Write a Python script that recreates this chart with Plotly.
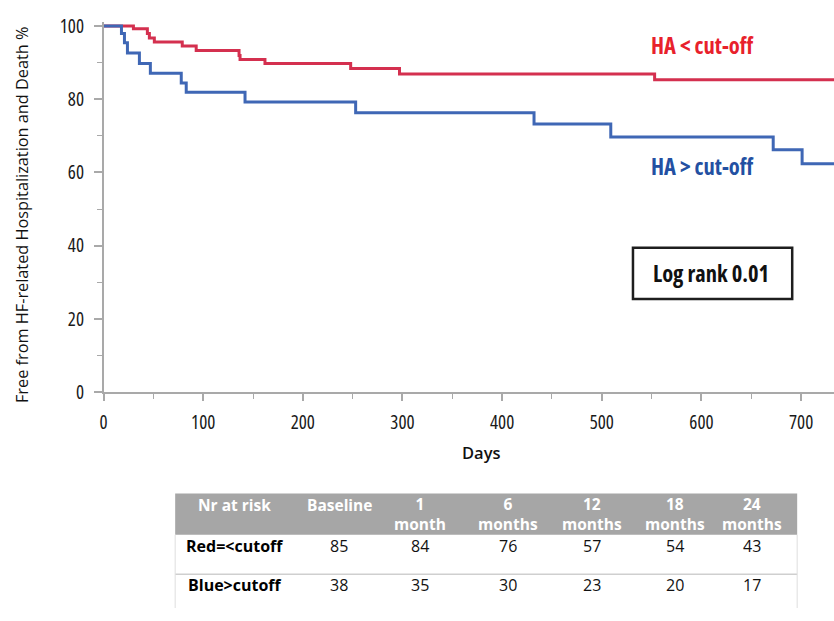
import plotly.graph_objects as go

# Kaplan-Meier step data (days, % event-free)
red_days = [0, 30, 44, 46, 51, 79, 93, 136, 137, 162, 248, 297, 553, 733]
red_surv = [100, 99.2, 97.9, 96.7, 95.6, 94.5, 93.3, 91.9, 90.8, 89.7, 88.4, 86.9, 85.3, 85.3]

blue_days = [0, 18, 21, 24, 36, 47, 78, 83, 142, 253, 432, 509, 672, 701, 733]
blue_surv = [100, 97.9, 95.4, 92.6, 89.7, 87.1, 84.4, 81.9, 79.2, 76.3, 73.2, 69.7, 66.2, 62.4, 62.4]

x_ticks = [0, 100, 200, 300, 400, 500, 600, 700]
y_ticks = [0, 20, 40, 60, 80, 100]

# Numbers at risk
risk_header = ["Nr at risk", "Baseline", "1<br>month", "6<br>months",
               "12<br>months", "18<br>months", "24<br>months"]
risk_groups = ["Red=<cutoff", "Blue>cutoff"]
risk_red = [85, 84, 76, 57, 54, 43]
risk_blue = [38, 35, 30, 23, 20, 17]

W, H = 834, 621
RED_LINE = "#d4304f"
BLUE_LINE = "#3f67b5"
AXIS_GREY = "#a9a9a9"
FONT = "Open Sans, Noto Sans, sans-serif"


def px(x, y):
    """pixel position -> paper coordinates"""
    return x / W, (H - y) / H


def narrow(text, pct):
    return f"<span style='font-stretch:{pct}%'>{text}</span>"


def esc(text):
    return text.replace("<", "&lt;").replace(">", "&gt;")


def label(annotations, x, y, text, size, color, weight=None, angle=0):
    ax, ay = px(x, y)
    font = dict(family=FONT, size=size, color=color)
    if weight:
        font["weight"] = weight
    annotations.append(dict(x=ax, y=ay, xref="paper", yref="paper", xanchor="center",
                            yanchor="middle", showarrow=False, textangle=angle,
                            align="center", text=text, font=font))


fig = go.Figure()
fig.add_trace(go.Scatter(x=red_days, y=red_surv, mode="lines", line_shape="hv",
                         line=dict(color=RED_LINE, width=3), showlegend=False,
                         hoverinfo="skip"))
fig.add_trace(go.Scatter(x=blue_days, y=blue_surv, mode="lines", line_shape="hv",
                         line=dict(color=BLUE_LINE, width=3), showlegend=False,
                         hoverinfo="skip"))

# plot area in pixels
x0_px, y0_px, y100_px = 100, 397, 16.5
ppu = (y0_px - y100_px) / 100.0
y_top = 101
top_px = y0_px - y_top * ppu

annotations = []
shapes = []

# curve labels and log-rank box
label(annotations, 702, 37, narrow("<b>HA &lt; cut-off</b>", 75), 22.5, "#e8212b")
label(annotations, 702, 163, narrow("<b>HA &gt; cut-off</b>", 75), 22.5, "#2350a2")
label(annotations, 710, 274, narrow("<b>Log rank 0.01</b>", 75), 22.5, "#111111")
bx0, by0 = px(632, 300)
bx1, by1 = px(792, 247)
shapes.append(dict(type="rect", xref="paper", yref="paper", x0=bx0, x1=bx1, y0=by0, y1=by1,
                   line=dict(color="#1e1e1e", width=2.5)))

# axis titles
label(annotations, 18, 212, "Free from HF-related Hospitalization and Death %",
      16.3, "#111111", angle=-90)
label(annotations, 480, 460, narrow("Days", 90), 16.5, "#111111", weight=600)

# at-risk table
tbl_x0, tbl_x1 = 172, 797
head_y0, head_y1 = 502, 545
col_cx = [232, 337, 418, 506, 591, 674, 752]
row_cy = [557, 597]
sep_y = 586

hx0, hy0 = px(tbl_x0, head_y1)
hx1, hy1 = px(tbl_x1, head_y0)
shapes.append(dict(type="rect", xref="paper", yref="paper", x0=hx0, x1=hx1, y0=hy0, y1=hy1,
                   fillcolor="#a6a6a6", line=dict(width=0), layer="below"))
lx0, ly = px(tbl_x0, sep_y)
lx1, _ = px(tbl_x1, sep_y)
shapes.append(dict(type="line", xref="paper", yref="paper", x0=lx0, x1=lx1, y0=ly, y1=ly,
                   line=dict(color="#cfcfcf", width=1.5)))
for xx in [tbl_x0, tbl_x1]:
    lx, ly0 = px(xx, H)
    _, ly1 = px(xx, head_y1)
    shapes.append(dict(type="line", xref="paper", yref="paper", x0=lx, x1=lx, y0=ly0, y1=ly1,
                       line=dict(color="#dedede", width=1)))

for head, cx in zip(risk_header, col_cx):
    two_lines = "<br>" in head
    label(annotations, cx, 523.5 if two_lines else 514, f"<b>{head}</b>", 15.5, "white")

for group, values, cy in [(risk_groups[0], risk_red, row_cy[0]),
                          (risk_groups[1], risk_blue, row_cy[1])]:
    label(annotations, col_cx[0], cy, f"<b>{esc(group)}</b>", 16, "black")
    for v, cx in zip(values, col_cx[1:]):
        label(annotations, cx, cy, str(v), 16, "#111111")

tick_font = dict(family=FONT, size=19, color="#1a1a1a")

fig.update_layout(
    width=W, height=H,
    margin=dict(l=0, r=0, t=0, b=0),
    paper_bgcolor="white", plot_bgcolor="white",
    showlegend=False,
    xaxis=dict(domain=[x0_px / W, 1], range=[0, 733],
               tickvals=x_ticks, ticktext=[narrow(str(t), 82) for t in x_ticks],
               ticks="outside", ticklen=7, tickcolor=AXIS_GREY, tickwidth=1.5,
               minor=dict(dtick=50, tick0=0, ticks="outside", ticklen=5,
                          tickcolor=AXIS_GREY, tickwidth=1.3),
               showline=True, linecolor=AXIS_GREY, linewidth=1.5,
               showgrid=False, zeroline=False, ticklabelstandoff=5,
               tickfont=tick_font),
    yaxis=dict(domain=[(H - y0_px) / H, (H - top_px) / H], range=[0, y_top],
               tickvals=y_ticks, ticktext=[narrow(str(t), 82) for t in y_ticks],
               ticks="outside", ticklen=8, tickcolor=AXIS_GREY, tickwidth=1.5,
               minor=dict(dtick=10, tick0=0, ticks="outside", ticklen=5,
                          tickcolor=AXIS_GREY, tickwidth=1.3),
               showline=True, linecolor=AXIS_GREY, linewidth=1.5,
               showgrid=False, zeroline=False, ticklabelstandoff=6,
               tickfont=tick_font),
    annotations=annotations,
    shapes=shapes,
)

fig.write_html("out.html")
